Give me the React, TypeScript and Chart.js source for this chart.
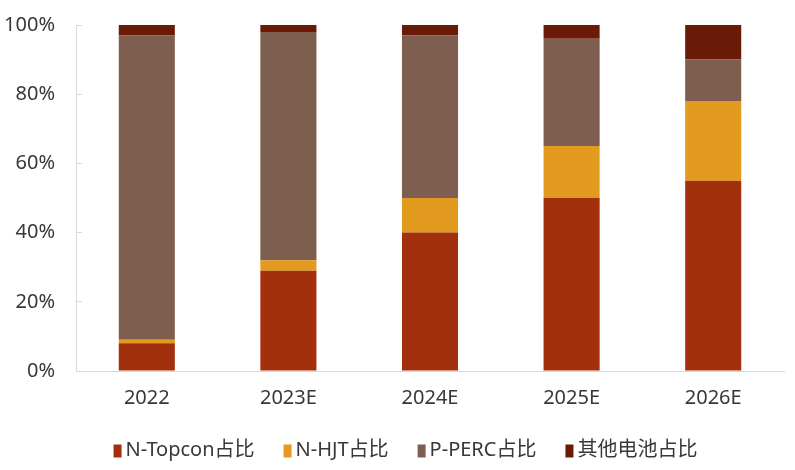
import React, { useEffect, useRef } from "react";
import { Chart, registerables } from "chart.js";

Chart.register(...registerables);

const categories = ["2022", "2023E", "2024E", "2025E", "2026E"];
const topcon = [8, 29, 40, 50, 55];
const hjt = [1, 3, 10, 15, 23];
const perc = [88, 66, 47, 31, 12];
const others = [3, 2, 3, 4, 10];
const seriesNames = ["N-Topcon占比", "N-HJT占比", "P-PERC占比", "其他电池占比"];
const yTicks = [0, 20, 40, 60, 80, 100];

const FONT = "'Noto Sans', 'Noto Sans CJK SC', sans-serif";
const TEXT = "#383838";
const AXIS = "#d9d9d9";

const legendPlugin = {
  id: "customLegend",
  afterDraw(chart: any) {
    const ctx = chart.ctx;
    const items = chart.data.datasets.map((d: any) => ({ label: d.label, color: d.backgroundColor }));
    ctx.save();
    ctx.font = `20px ${FONT}`;
    const boxW = 8;
    const boxH = 13;
    const gapBox = 4;
    const gapItem = 29;
    const widths = items.map((it: any) => boxW + gapBox + ctx.measureText(it.label).width);
    const total = widths.reduce((a: number, b: number) => a + b, 0) + gapItem * (items.length - 1);
    let x = chart.width / 2 + 8 - total / 2;
    const cy = chart.chartArea.bottom + 79;
    items.forEach((it: any, i: number) => {
      ctx.fillStyle = it.color;
      ctx.fillRect(x, cy - boxH / 2 + 1, boxW, boxH);
      ctx.fillStyle = TEXT;
      ctx.textBaseline = "middle";
      ctx.textAlign = "left";
      ctx.fillText(it.label, x + boxW + gapBox, cy);
      x += widths[i] + gapItem;
    });
    ctx.restore();
  },
};

export default function App() {
  const ref = useRef<HTMLCanvasElement | null>(null);
  useEffect(() => {
    document.body.style.margin = "0";
    const ctx = ref.current!;
    const colors = ["#A3300C", "#E29A1F", "#7E5E4E", "#6A1A06"];
    const chart = new Chart(ctx, {
      type: "bar",
      data: {
        labels: categories,
        datasets: [topcon, hjt, perc, others].map((d, i) => ({
          label: seriesNames[i],
          data: d,
          backgroundColor: colors[i],
          borderWidth: 0,
          categoryPercentage: 1,
          barPercentage: 0.396,
        })),
      },
      plugins: [legendPlugin],
      options: {
        animation: false,
        responsive: false,
        maintainAspectRatio: false,
        layout: { padding: { top: 25, right: 11, left: 0, bottom: 45 } },
        plugins: {
          tooltip: { enabled: false },
          legend: { display: false },
        },
        scales: {
          x: {
            stacked: true,
            grid: { display: false, drawTicks: false },
            border: { color: AXIS, width: 1 },
            ticks: { color: TEXT, font: { family: FONT, size: 20 }, padding: 15 },
          },
          y: {
            stacked: true,
            min: 0,
            max: 100,
            afterBuildTicks: (s: any) => {
              s.ticks = yTicks.map((v) => ({ value: v }));
            },
            grid: {
              display: true,
              drawOnChartArea: false,
              drawTicks: true,
              tickLength: -6,
              tickColor: AXIS,
            },
            border: { color: AXIS, width: 1 },
            ticks: {
              color: TEXT,
              font: { family: FONT, size: 20 },
              padding: 27,
              callback: (v: any) => v + "%",
            },
            afterFit: (s: any) => {
              s.width = 76;
              s.paddingTop = 12;
              s.paddingBottom = 12;
            },
          },
        },
      },
    });
    return () => chart.destroy();
  }, []);
  return (
    <div style={{ width: 795, height: 470, background: "#fff" }}>
      <canvas ref={ref} width={795} height={470} style={{ display: "block" }} />
    </div>
  );
}
